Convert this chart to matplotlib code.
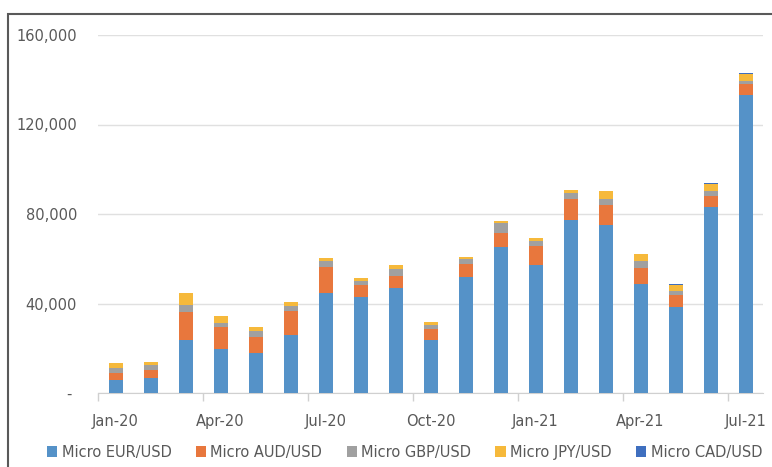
import matplotlib
matplotlib.use("Agg")
import matplotlib.pyplot as plt
from matplotlib.patches import Rectangle
import numpy as np

months = ["Jan-20", "Feb-20", "Mar-20", "Apr-20", "May-20", "Jun-20", "Jul-20", "Aug-20",
          "Sep-20", "Oct-20", "Nov-20", "Dec-20", "Jan-21", "Feb-21", "Mar-21", "Apr-21",
          "May-21", "Jun-21", "Jul-21"]
eur = [5650, 6800, 23700, 19600, 18000, 25900, 44900, 43000, 47000, 23700, 51900, 65300,
       57000, 77400, 75200, 48700, 38500, 83200, 133100]
aud = [3250, 3600, 12500, 9900, 7100, 10900, 11400, 5100, 5500, 4700, 5800, 6400,
       8800, 9200, 8700, 7300, 5300, 4800, 5200]
gbp = [2100, 2000, 3100, 2000, 2400, 1900, 2500, 1800, 3000, 2100, 2000, 4100,
       2200, 3000, 2700, 2800, 2000, 2500, 1300]
jpy = [2200, 1600, 5600, 3000, 1800, 2100, 1500, 1700, 1900, 1200, 1000, 1000,
       1100, 1200, 3900, 3400, 2300, 2800, 3000]
cad = [0, 0, 0, 0, 0, 0, 0, 0, 0, 0, 0, 0, 0, 0, 0, 0, 500, 600, 600]

series = [("Micro EUR/USD", eur, "#5592C8"),
          ("Micro AUD/USD", aud, "#E8773D"),
          ("Micro GBP/USD", gbp, "#A0A0A0"),
          ("Micro JPY/USD", jpy, "#F6B93B"),
          ("Micro CAD/USD", cad, "#3F6FBF")]

fig = plt.figure(figsize=(7.72, 4.67), dpi=100)
ax = fig.add_axes([98/772, 1-393/467, (763-98)/772, (393-35)/467])

x = np.arange(len(months))
bottom = np.zeros(len(months))
for name, vals, col in series:
    v = np.array(vals, dtype=float)
    ax.bar(x, v, width=0.4, bottom=bottom, color=col, label=name, zorder=3)
    bottom += v

ax.set_xlim(-0.5, len(months) - 0.5)
ax.set_ylim(0, 160000)
ax.set_yticks([0, 40000, 80000, 120000, 160000])
ax.set_yticklabels(["- ", "40,000", "80,000", "120,000", "160,000"])
ax.yaxis.grid(True, color="#E0E0E0", linewidth=1, zorder=0)
ax.tick_params(axis="y", length=0, pad=15, labelsize=10.5, labelcolor="#595959")

ax.set_xticks(x[::3])
ax.set_xticklabels(months[::3])
ax.set_xticks(np.arange(-0.5, len(months), 3), minor=True)
ax.tick_params(axis="x", which="major", length=0, pad=15, labelsize=10.5, labelcolor="#595959")
ax.tick_params(axis="x", which="minor", length=6, color="#D0D0D0", width=1)

for s in ["top", "right", "left"]:
    ax.spines[s].set_visible(False)
ax.spines["bottom"].set_color("#D0D0D0")

fig.legend(loc="center", bbox_to_anchor=(0.524, 1-452/467), ncol=5, frameon=False,
           fontsize=10.5, handlelength=0.7, handleheight=0.7, handletextpad=0.3,
           columnspacing=1.67, labelcolor="#595959")

fig.patches.append(Rectangle((8/772, -0.1), 1.2, (1-14/467) + 0.1, transform=fig.transFigure,
                             fill=False, edgecolor="#595959", linewidth=1.5))

fig.savefig("out.png", dpi=100)
